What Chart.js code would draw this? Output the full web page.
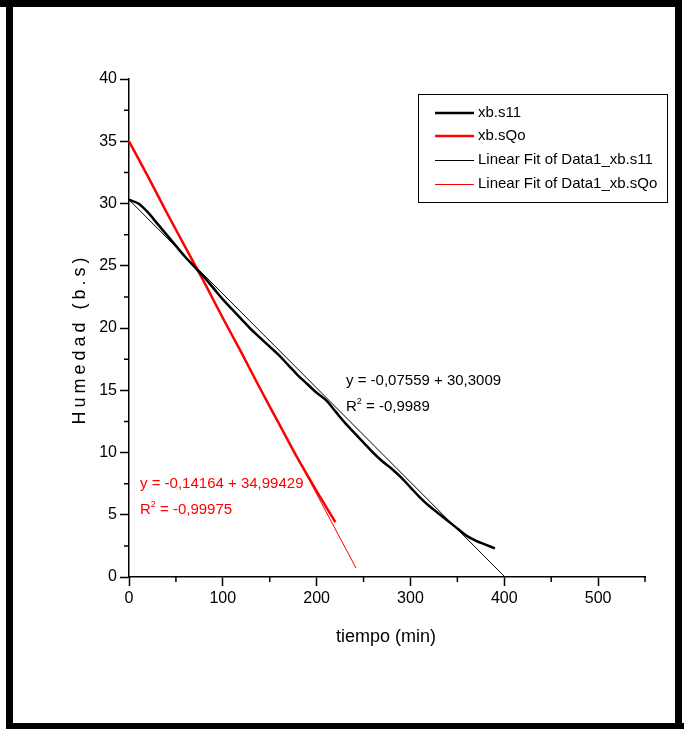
<!DOCTYPE html>
<html>
<head>
<meta charset="utf-8">
<title>Humedad vs tiempo</title>
<script src="https://cdn.jsdelivr.net/npm/chart.js@4/dist/chart.umd.min.js"></script>
<style>
  html, body { margin: 0; padding: 0; background: #fff; }
  #wrap { position: relative; width: 684px; height: 729px; }
</style>
</head>
<body>
<div id="wrap"><canvas id="chart"></canvas></div>
<script>
// Data
const timeS11 = [0, 10, 20, 30, 40, 50, 60, 70, 80, 90, 100, 110, 120, 130, 140, 150, 160, 170, 180, 190,
                 200, 210, 220, 230, 240, 250, 260, 270, 280, 290, 300, 310, 320, 330, 340, 350, 360, 370, 380, 390];
const humS11 = [30.3, 30.0, 29.3, 28.4, 27.5, 26.6, 25.7, 24.9, 24.1, 23.2, 22.3, 21.5, 20.7, 19.9, 19.2, 18.5, 17.8, 17.0, 16.2, 15.5,
                14.8, 14.2, 13.3, 12.4, 11.6, 10.8, 10.0, 9.3, 8.7, 8.0, 7.2, 6.4, 5.7, 5.1, 4.5, 3.9, 3.3, 2.9, 2.6, 2.3];

const timeSQo = [0, 20, 40, 60, 80, 100, 120, 140, 160, 180, 200, 220];
const humSQo = [35.0, 32.2, 29.3, 26.5, 23.7, 20.8, 18.0, 15.1, 12.3, 9.5, 6.9, 4.4];

// Linear fit end points
const fitS11X = [0, 400];
const fitS11Y = [30.30, 0.06];
const fitSQoX = [0, 242];
const fitSQoY = [34.99, 0.72];

const seriesLabels = ['xb.s11', 'xb.sQo', 'Linear Fit of Data1_xb.s11', 'Linear Fit of Data1_xb.sQo'];

const xMajor = [0, 100, 200, 300, 400, 500];
const xMinor = [50, 150, 250, 350, 450, 550];
const yMinor = [2.5, 7.5, 12.5, 17.5, 22.5, 27.5, 32.5, 37.5];

const FONT = "'Liberation Sans', Arial, sans-serif";

function toPoints(xs, ys) {
    return xs.map((x, i) => ({ x: x, y: ys[i] }));
}

// Draw text letter by letter with extra spacing
function spacedText(ctx, text, x, y, spacing) {
    let total = 0;
    for (const ch of text) total += ctx.measureText(ch).width + spacing;
    total -= spacing;
    let cx = x - total / 2;
    for (const ch of text) {
        ctx.fillText(ch, cx, y);
        cx += ctx.measureText(ch).width + spacing;
    }
}

// R^2 label with superscript
function r2Text(ctx, value, x, y, color) {
    ctx.fillStyle = color;
    ctx.font = '15px ' + FONT;
    ctx.fillText('R', x, y);
    const w = ctx.measureText('R').width;
    ctx.font = '9px ' + FONT;
    ctx.fillText('2', x + w, y - 7);
    const w2 = ctx.measureText('2').width;
    ctx.font = '15px ' + FONT;
    ctx.fillText(' = ' + value, x + w + w2, y);
}

const extrasPlugin = {
    id: 'extras',
    beforeDraw(chart) {
        const ctx = chart.ctx;
        ctx.save();
        ctx.fillStyle = '#fff';
        ctx.fillRect(0, 0, chart.width, chart.height);
        ctx.restore();
    },
    afterDraw(chart) {
        const ctx = chart.ctx;
        const xs = chart.scales.x, ys = chart.scales.y;
        const area = chart.chartArea;
        ctx.save();

        // minor ticks
        ctx.strokeStyle = '#000';
        ctx.lineWidth = 1.5;
        ctx.beginPath();
        xMinor.forEach(v => {
            const px = xs.getPixelForValue(v);
            ctx.moveTo(px, area.bottom);
            ctx.lineTo(px, area.bottom + 5);
        });
        yMinor.forEach(v => {
            const py = ys.getPixelForValue(v);
            ctx.moveTo(area.left, py);
            ctx.lineTo(area.left - 5, py);
        });
        ctx.stroke();

        // axis titles
        ctx.fillStyle = '#000';
        ctx.font = '18px ' + FONT;
        ctx.textAlign = 'center';
        ctx.textBaseline = 'middle';
        ctx.fillText('tiempo (min)', (area.left + area.right) / 2 - 1, 637);
        ctx.save();
        ctx.translate(80, 341);
        ctx.rotate(-Math.PI / 2);
        ctx.textAlign = 'left';
        spacedText(ctx, 'Humedad (b.s)', 0, 0, 4);
        ctx.restore();

        // fit equations
        ctx.textAlign = 'left';
        ctx.textBaseline = 'alphabetic';
        ctx.font = '15px ' + FONT;
        ctx.fillStyle = '#000';
        ctx.fillText('y = -0,07559 + 30,3009', 346, 385);
        r2Text(ctx, '-0,9989', 346, 411, '#000');
        ctx.fillStyle = '#ff0000';
        ctx.font = '15px ' + FONT;
        ctx.fillText('y = -0,14164 + 34,99429', 140, 488);
        r2Text(ctx, '-0,99975', 140, 514, '#ff0000');

        // legend box
        ctx.strokeStyle = '#000';
        ctx.lineWidth = 1;
        ctx.strokeRect(418.5, 94.5, 249, 108);
        const rowY = [113, 136, 160, 184];
        chart.data.datasets.forEach((ds, i) => {
            const off = ds.borderWidth < 2 ? 0.5 : 0;
            ctx.strokeStyle = ds.borderColor;
            ctx.lineWidth = ds.borderWidth;
            ctx.beginPath();
            ctx.moveTo(435, rowY[i] + off);
            ctx.lineTo(474, rowY[i] + off);
            ctx.stroke();
            ctx.fillStyle = '#000';
            ctx.font = '15px ' + FONT;
            ctx.textBaseline = 'middle';
            ctx.fillText(ds.label, 478, rowY[i]);
        });

        // outer frame
        ctx.fillStyle = '#000';
        ctx.fillRect(0, 0, 682, 7);
        ctx.fillRect(6, 0, 7, 729);
        ctx.fillRect(675, 0, 7, 723);
        ctx.fillRect(6, 723, 678, 6);
        ctx.restore();
    }
};

const axisTicks = { color: '#000', font: { size: 16, family: FONT } };

new Chart(document.getElementById('chart'), {
    type: 'scatter',
    data: {
        datasets: [
            { label: seriesLabels[0], data: toPoints(timeS11, humS11), borderColor: '#000', borderWidth: 2.5, cubicInterpolationMode: 'monotone' },
            { label: seriesLabels[1], data: toPoints(timeSQo, humSQo), borderColor: '#ff0000', borderWidth: 2.5, cubicInterpolationMode: 'monotone' },
            { label: seriesLabels[2], data: toPoints(fitS11X, fitS11Y), borderColor: '#000', borderWidth: 1 },
            { label: seriesLabels[3], data: toPoints(fitSQoX, fitSQoY), borderColor: '#ff0000', borderWidth: 1 }
        ].map(ds => Object.assign(ds, { showLine: true, pointRadius: 0, fill: false, clip: false }))
    },
    options: {
        responsive: true,
        maintainAspectRatio: false,
        animation: false,
        events: [],
        layout: { padding: { top: 79, right: 39, left: 0, bottom: 0 } },
        plugins: { legend: { display: false }, tooltip: { enabled: false } },
        scales: {
            x: {
                type: 'linear',
                min: 0,
                max: 550,
                afterFit: scale => { scale.height = 152; },
                afterBuildTicks: scale => { scale.ticks = xMajor.map(v => ({ value: v })); },
                ticks: Object.assign({ padding: 3, maxRotation: 0 }, axisTicks),
                grid: { drawOnChartArea: false, tickLength: 9, color: '#000', tickWidth: 1.5 },
                border: { color: '#000', width: 1.5 }
            },
            y: {
                min: 0,
                max: 40,
                afterFit: scale => { scale.width = 129; },
                ticks: Object.assign({ stepSize: 5, padding: 3 }, axisTicks),
                grid: { drawOnChartArea: false, tickLength: 9, color: '#000', tickWidth: 1.5 },
                border: { color: '#000', width: 1.5 }
            }
        }
    },
    plugins: [extrasPlugin]
});
</script>
</body>
</html>
